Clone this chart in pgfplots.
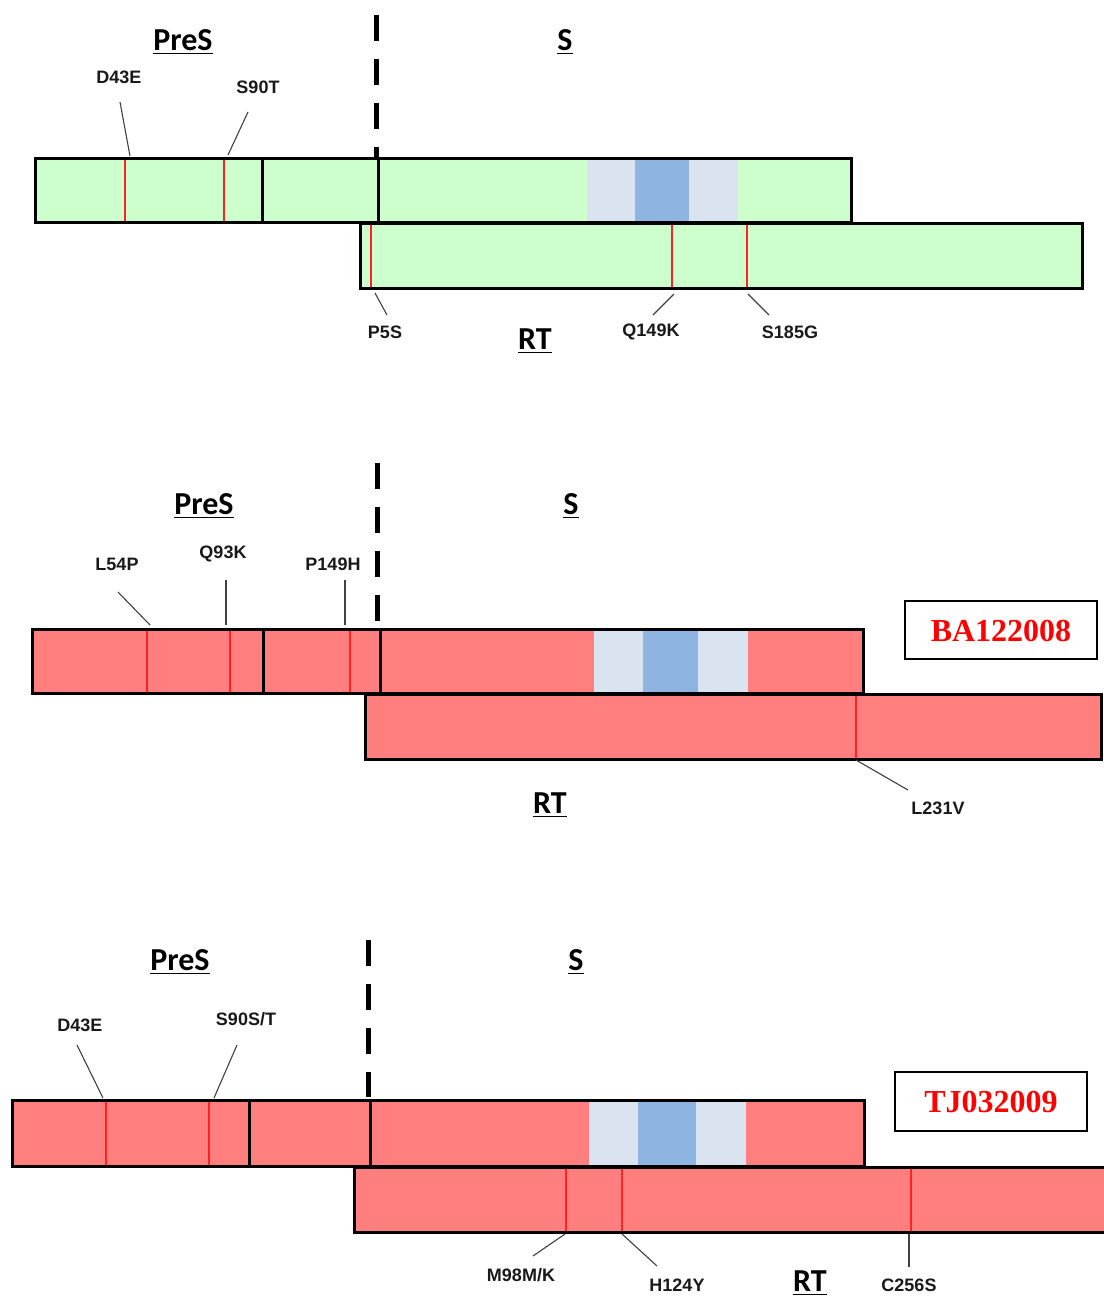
\documentclass[border=0pt]{standalone}
\usepackage{fontspec}
\setmainfont{Liberation Sans}
\newfontfamily\calfont{Carlito}
\newfontfamily\tnrfont{Liberation Serif}
\usepackage{pgfplots}
\pgfplotsset{compat=1.18}
\definecolor{gfill}{HTML}{CCFFCC}
\definecolor{rfill}{HTML}{FF7F7F}
\definecolor{lblue}{HTML}{DAE3F0}
\definecolor{dblue}{HTML}{8EB4E2}
\definecolor{mut}{HTML}{FF2222}
\definecolor{lead}{HTML}{404040}
\newcommand\RFill[5]{\addplot[draw=none,fill=#5] coordinates {(#1,#3) (#2,#3) (#2,#4) (#1,#4)} --cycle;}
\newcommand\ROut[4]{\addplot[draw=black,line width=1.5pt,line join=miter] coordinates {(#1,#3) (#2,#3) (#2,#4) (#1,#4)} --cycle;}
\newcommand\Mut[3]{\addplot[draw=mut,line width=1pt] coordinates {(#1,#2) (#1,#3)};}
\newcommand\Div[3]{\addplot[draw=black,line width=1.5pt] coordinates {(#1,#2) (#1,#3)};}
\newcommand\Lead[4]{\addplot[draw=lead,line width=0.55pt] coordinates {(#1,#2) (#3,#4)};}
\newcommand\Dash[3]{\addplot[draw=black,line width=2.5pt,dash pattern=on 13pt off 9pt] coordinates {(#1,#2) (#1,#3)};}
\newcommand\Lab[3]{\node[text=black!90,font=\bfseries\fontsize{9}{10}\selectfont] at (axis cs:#1,#2) {#3};}
\newcommand\Reg[3]{\node[font=\calfont\bfseries\fontsize{16}{18}\selectfont] at (axis cs:#1,#2) {\underline{#3}};}
\begin{document}
\begin{tikzpicture}
\begin{axis}[name=ax,width=552pt,height=649pt,scale only axis,xmin=0,xmax=1104,ymin=0,ymax=1298,
  y dir=reverse,hide axis,clip=false,no markers]
% ===== Panel 1 (green) =====
\RFill{35}{851}{158}{222}{gfill}
\RFill{587}{635}{159}{221}{lblue}
\RFill{635}{689}{159}{221}{dblue}
\RFill{689}{738}{159}{221}{lblue}
\RFill{360}{1082}{223}{288}{gfill}
\Mut{125}{159}{221}
\Mut{224}{159}{221}
\Mut{371}{224}{287}
\Mut{672}{224}{287}
\Mut{747}{224}{287}
\ROut{35}{851}{158}{222}
\ROut{360}{1082}{223}{288}
\Div{262}{158}{222}
\Div{378}{158}{222}
\Dash{376}{15}{158}
\Reg{183}{42}{PreS}
\Reg{565}{42}{S}
\Reg{535}{341}{RT}
\Lab{119}{77}{D43E}
\Lab{258}{87}{S90T}
\Lab{385}{332}{P5S}
\Lab{651}{332}{Q149K}
\Lab{790}{332}{S185G}
\Lead{120}{102}{130}{156}
\Lead{248}{112}{228}{155}
\Lead{375}{293}{387}{315}
\Lead{674}{294}{653}{315}
\Lead{748}{294}{769}{315}
% ===== Panel 2 (BA122008) =====
\RFill{32}{863}{629}{693}{rfill}
\RFill{594}{643}{630}{692}{lblue}
\RFill{643}{698}{630}{692}{dblue}
\RFill{698}{748}{630}{692}{lblue}
\RFill{365}{1101}{694}{759}{rfill}
\Mut{147}{630}{692}
\Mut{230}{630}{692}
\Mut{350}{630}{692}
\Mut{856}{695}{758}
\ROut{32}{863}{629}{693}
\ROut{365}{1101}{694}{759}
\Div{263}{629}{693}
\Div{380}{629}{693}
\Dash{377}{463}{625}
\Reg{204}{506}{PreS}
\Reg{571}{506}{S}
\Reg{550}{805}{RT}
\Lab{117}{564}{L54P}
\Lab{223}{554}{Q93K}
\Lab{333}{564}{P149H}
\Lab{938}{808}{L231V}
\Lead{118}{592}{150}{625}
\Lead{226}{580}{226}{625}
\Lead{345}{580}{345}{625}
\Lead{856}{760}{908}{790}
\addplot[draw=black,line width=0.8pt,fill=white] coordinates {(905,601) (1097,601) (1097,659) (905,659)} --cycle;
\node[text=red,font=\tnrfont\bfseries\fontsize{16}{18}\selectfont] at (axis cs:1001,631) {BA122008};
% ===== Panel 3 (TJ032009) =====
\RFill{12}{864}{1100}{1166}{rfill}
\RFill{589}{638}{1101}{1165}{lblue}
\RFill{638}{696}{1101}{1165}{dblue}
\RFill{696}{746}{1101}{1165}{lblue}
\RFill{354}{1104}{1167}{1232}{rfill}
\Mut{106}{1101}{1165}
\Mut{209}{1101}{1165}
\Mut{566}{1168}{1231}
\Mut{622}{1168}{1231}
\Mut{911}{1168}{1231}
\ROut{12}{864}{1100}{1166}
\addplot[draw=black,line width=1.5pt,line join=miter] coordinates {(1104,1167) (354,1167) (354,1232) (1104,1232)};
\Div{249}{1100}{1166}
\Div{370}{1100}{1166}
\Dash{368}{940}{1097}
\Reg{180}{962}{PreS}
\Reg{576}{962}{S}
\Reg{810}{1283}{RT}
\Lab{80}{1025}{D43E}
\Lab{246}{1019}{S90S/T}
\Lab{521}{1275}{M98M/K}
\Lab{677}{1285}{H124Y}
\Lab{909}{1285}{C256S}
\Lead{77}{1045}{103}{1098}
\Lead{237}{1045}{214}{1098}
\Lead{533}{1256}{565}{1234}
\Lead{622}{1234}{657}{1266}
\Lead{909}{1234}{909}{1267}
\addplot[draw=black,line width=0.8pt,fill=white] coordinates {(895,1072) (1087,1072) (1087,1131) (895,1131)} --cycle;
\node[text=red,font=\tnrfont\bfseries\fontsize{16}{18}\selectfont] at (axis cs:991,1102) {TJ032009};
\end{axis}
\pgfresetboundingbox
\path[use as bounding box] (ax.south west) rectangle (ax.north east);
\end{tikzpicture}
\end{document}
